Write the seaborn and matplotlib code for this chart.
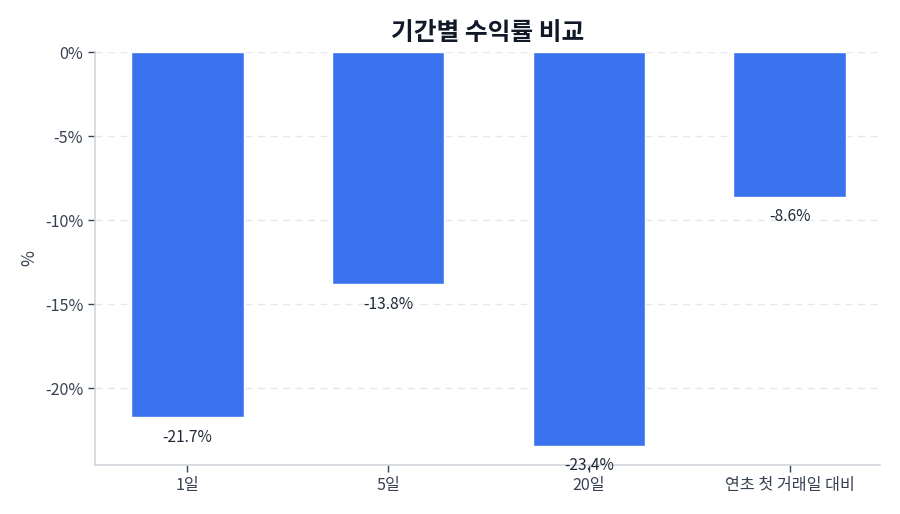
import numpy as np
import pandas as pd
import seaborn as sns
import matplotlib.pyplot as plt

# data
periods = ['1일', '5일', '20일', '연초 첫 거래일 대비']
returns = [-21.7, -13.8, -23.4, -8.6]
yticks = [0, -5, -10, -15, -20]

df = pd.DataFrame({'period': periods, 'ret': returns})

sns.set_theme(style='white')
plt.rcParams['font.family'] = ['Noto Sans CJK KR', 'DejaVu Sans']
plt.rcParams['axes.unicode_minus'] = False

fig = plt.figure(figsize=(9, 5.14), dpi=100)
ax = fig.add_axes([0.1056, 0.0953, 0.8722, 0.8035])

sns.barplot(data=df, x='period', y='ret', color='#3b73ee', saturation=1,
            width=0.56, ax=ax, zorder=3)

for i, v in enumerate(returns):
    ax.annotate(f'{v:.1f}%', xy=(i, v), xytext=(0, -8.5), textcoords='offset points',
                ha='center', va='top', fontsize=11.2, color='#1f2937', zorder=4)

ax.set_ylim(-24.55, 0)
ax.set_xlim(-0.46, 3.45)
ax.set_yticks(yticks)
ax.set_yticklabels([f'{t}%' for t in yticks])
ax.yaxis.grid(True, linestyle=(0, (5, 4)), color='#e5e7eb', linewidth=1, zorder=0)
ax.set_axisbelow(True)

ax.set_xlabel('')
ax.set_ylabel('%', fontsize=12.5, color='#374151', labelpad=5)
ax.set_title('기간별 수익률 비교', fontsize=17.8, fontweight='bold', color='#111827', pad=9)

for s in ['top', 'right']:
    ax.spines[s].set_visible(False)
for s in ['left', 'bottom']:
    ax.spines[s].set_color('#d1d5db')
    ax.spines[s].set_linewidth(1.2)

ax.tick_params(axis='both', which='both', length=5, width=1, color='#374151',
               labelsize=11.6, labelcolor='#374151', left=True, bottom=True)

fig.savefig('out.png', dpi=100)
